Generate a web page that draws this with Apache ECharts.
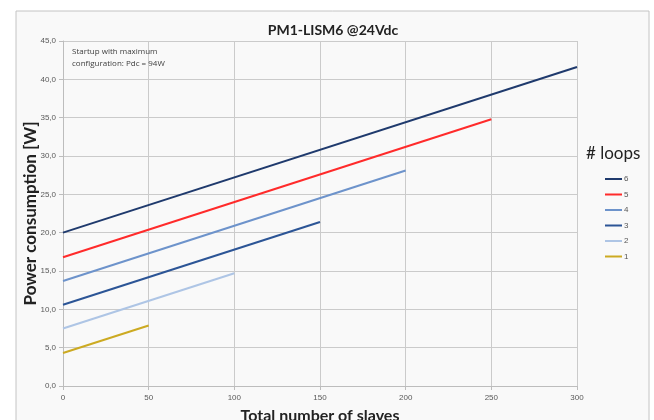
<!DOCTYPE html>
<html><head><meta charset="utf-8">
<script src="https://cdn.jsdelivr.net/npm/echarts@6/dist/echarts.min.js"></script>
<style>html,body{margin:0;padding:0;background:#fff}#c{width:654px;height:420px}</style>
</head><body><div id="c"></div>
<script>
var loopNames = ['6','5','4','3','2','1'];
var xStart = [0,0,0,0,0,0];
var xEnd = [300,250,200,150,100,50];
var yStart = [20.0,16.8,13.7,10.6,7.5,4.3];
var yEnd = [41.6,34.8,28.1,21.4,14.7,7.9];
var colors = ['#1f3a6d','#ff2b2b','#6d93cb','#2c5596','#aec5e5','#ccaa22'];
var xTicks = [0,50,100,150,200,250,300];
var yTicks = [0,5,10,15,20,25,30,35,40,45];

var chart = echarts.init(document.getElementById('c'));
var series = loopNames.map(function(n,i){
  return {
    name:n, type:'line', symbol:'none',
    data:[[xStart[i],yStart[i]],[xEnd[i],yEnd[i]]],
    lineStyle:{color:colors[i],width:2}, itemStyle:{color:colors[i]},
    z: 3
  };
});
var F = 'Lato, "Open Sans", sans-serif';
chart.setOption({
  animation:false,
  backgroundColor:'#ffffff',
  graphic:[
    {type:'rect',shape:{x:16,y:11,width:633,height:430},style:{fill:'#f9f9f9',stroke:'#c4c4c4',lineWidth:1},z:-10},
    {type:'text',left:72,top:46,style:{text:'Startup with maximum\nconfiguration: Pdc = 94W',font:'8px "Open Sans", sans-serif',fill:'#404040',lineHeight:12},z:10},
    {type:'text',left:586,top:145,style:{text:'# loops',font:'17px ' + F,fill:'#222'}}
  ],
  title:{text:'PM1-LISM6 @24Vdc',left:328,textAlign:'center',top:18,
    textStyle:{fontSize:14,fontWeight:'bold',color:'#222',fontFamily:F}},
  grid:{left:63,right:77,top:41,bottom:34,show:false,outerBoundsMode:'none',containLabel:false},
  legend:{orient:'vertical',left:600,top:170,itemWidth:17,itemHeight:2,itemGap:7.5,icon:'rect',
    data:loopNames,textStyle:{fontSize:8,color:'#555',padding:[0,0,0,-3]}},
  xAxis:{type:'value',min:0,max:300,interval:50,
    name:'Total number of slaves',nameLocation:'middle',nameGap:22,nameMoveOverlap:false,
    nameTextStyle:{fontSize:16,fontWeight:'bold',color:'#222',fontFamily:F},
    axisLine:{show:true,lineStyle:{color:'#bdbdbd'}},
    axisTick:{show:true,length:4,lineStyle:{color:'#bdbdbd'}},
    axisLabel:{fontSize:8,color:'#595959',margin:8},
    splitLine:{show:true,lineStyle:{color:'#cbcbcb',width:1}}},
  yAxis:{type:'value',min:0,max:45,interval:5,
    name:'Power consumption [W]',nameLocation:'middle',nameGap:24,nameMoveOverlap:false,
    nameTextStyle:{fontSize:17,fontWeight:'bold',color:'#222',fontFamily:F},
    axisLine:{show:true,lineStyle:{color:'#bdbdbd'}},
    axisTick:{show:true,length:4,lineStyle:{color:'#bdbdbd'}},
    axisLabel:{fontSize:8,color:'#595959',margin:7,formatter:function(v){return v.toFixed(1).replace('.',',');}},
    splitLine:{show:true,lineStyle:{color:'#cbcbcb',width:1}}},
  series:series
});
</script></body></html>
